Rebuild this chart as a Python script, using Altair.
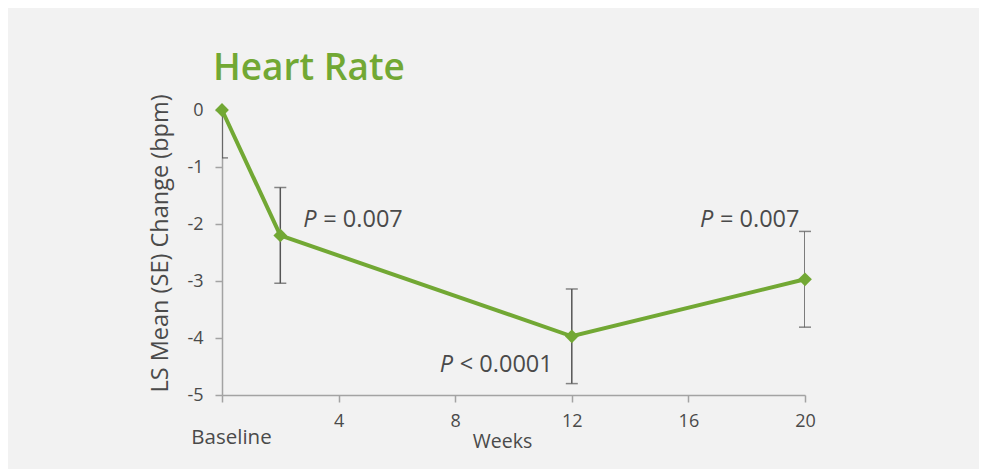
import altair as alt
import pandas as pd

# ---- data ----
weeks = [0, 2, 12, 20]
ls_mean = [0.0, -2.2, -3.97, -2.97]
se = [0.84, 0.84, 0.83, 0.84]
x_ticks = [0, 4, 8, 12, 16, 20]
y_ticks = [0, -1, -2, -3, -4, -5]
p_weeks = [2, 12, 20]
p_texts = ["= 0.007", "< 0.0001", "= 0.007"]

GREEN = "#72a834"
TEXT = "#4a4a4a"
AXIS = "#a3a3a3"
BAR = "#555555"
FONT = "Open Sans"

df = pd.DataFrame({"week": weeks, "mean": ls_mean, "se": se})
df["lo"] = df["mean"] - df["se"]
df["hi"] = df["mean"] + df["se"]

p_df = pd.DataFrame({"week": p_weeks, "rest": p_texts}).merge(df[["week", "mean"]], on="week")
p_df["P"] = "P"

x_scale = alt.Scale(domain=[0, 20], nice=False, zero=False)
y_scale = alt.Scale(domain=[-5, 0], nice=False, zero=False)

is0 = "datum.value == 0"
x_axis = alt.Axis(
    values=x_ticks,
    labelExpr="datum.value == 0 ? 'Baseline' : toString(datum.value)",
    title="Weeks", grid=False,
    domainColor=AXIS, domainWidth=1.5, tickColor=AXIS, tickWidth=1.5, tickSize=7,
    labelColor=TEXT, labelFont=FONT,
    labelFontSize={"condition": {"test": is0, "value": 20.5}, "value": 18},
    labelPadding={"condition": {"test": is0, "value": 25}, "value": 10},
    labelOffset={"condition": {"test": is0, "value": 9}, "value": 0},
    labelFlush=False, labelOverlap=False,
    titleFont=FONT, titleFontSize=19.5, titleColor=TEXT, titleFontWeight="normal",
    titleX=280, titleY=52, titleBaseline="alphabetic", titleAlign="center",
)
y_axis = alt.Axis(
    values=y_ticks, title="LS Mean (SE) Change (bpm)", grid=False,
    labelExpr="toString(datum.value)",
    domainColor=AXIS, domainWidth=1.5, tickColor=AXIS, tickWidth=1.5, tickSize=7,
    labelColor=TEXT, labelFont=FONT, labelFontSize=18, labelPadding=12,
    labelFlush=False, labelOverlap=False,
    titleFont=FONT, titleFontSize=23.5, titleColor=TEXT, titleFontWeight="normal",
    titleX=-62, titleY=133, titleAlign="center", titleBaseline="middle", titleAngle=270,
)

X = alt.X("week:Q", scale=x_scale, axis=x_axis)

base = alt.Chart(df)

bars = base.mark_rule(color=BAR, strokeWidth=1.5, clip=True).encode(
    x=X, y=alt.Y("lo:Q", scale=y_scale, axis=y_axis), y2="hi:Q"
)
cap_kw = dict(color=BAR, thickness=1.5, size=12, orient="horizontal")
# caps at the baseline point are clipped at the plot edge; the others are drawn in full
caps_lo_0 = base.transform_filter("datum.week == 0").mark_tick(clip=True, **cap_kw).encode(
    x=X, y=alt.Y("lo:Q", scale=y_scale, axis=y_axis)
)
caps_lo = base.transform_filter("datum.week > 0").mark_tick(**cap_kw).encode(
    x=X, y=alt.Y("lo:Q", scale=y_scale, axis=y_axis)
)
caps_hi = base.transform_filter("datum.hi <= 0").mark_tick(**cap_kw).encode(
    x=X, y=alt.Y("hi:Q", scale=y_scale, axis=y_axis)
)
line = base.mark_line(color=GREEN, strokeWidth=4).encode(
    x=X, y=alt.Y("mean:Q", scale=y_scale, axis=y_axis)
)
points = base.mark_point(shape="diamond", filled=True, color=GREEN, opacity=1, size=190).encode(
    x=X, y=alt.Y("mean:Q", scale=y_scale, axis=y_axis)
)

# annotation offsets (style, in pixels) for each P-value label
offsets = [(23, -8), (-132, 36), (-105, -52)]
ann_layers = []
for wk, (dx, dy) in zip(p_weeks, offsets):
    src = alt.Chart(p_df).transform_filter(alt.datum.week == wk)
    enc = dict(x=X, y=alt.Y("mean:Q", scale=y_scale, axis=y_axis))
    ann_layers.append(src.mark_text(
        align="left", baseline="alphabetic", font=FONT, fontSize=23.5,
        fontStyle="italic", color=TEXT, dx=dx, dy=dy
    ).encode(text="P:N", **enc))
    ann_layers.append(src.mark_text(
        align="left", baseline="alphabetic", font=FONT, fontSize=23.5,
        color=TEXT, dx=dx + 20, dy=dy
    ).encode(text="rest:N", **enc))

chart = alt.layer(bars, caps_lo_0, caps_lo, caps_hi, line, points, *ann_layers).properties(
    width=583, height=285,
    autosize=alt.AutoSizeParams(type="none"),
    padding={"left": 214, "top": 102, "right": 174, "bottom": 74},
    background="#f2f2f2",
    title=alt.TitleParams(
        "Heart Rate", anchor="start", frame="group", dx=-9, dy=52, offset=29,
        baseline="alphabetic", font=FONT, fontSize=37, fontWeight=600, color=GREEN,
    ),
).configure_view(stroke=None)

chart.save("out.html", embed_options={"renderer": "svg", "actions": False})
